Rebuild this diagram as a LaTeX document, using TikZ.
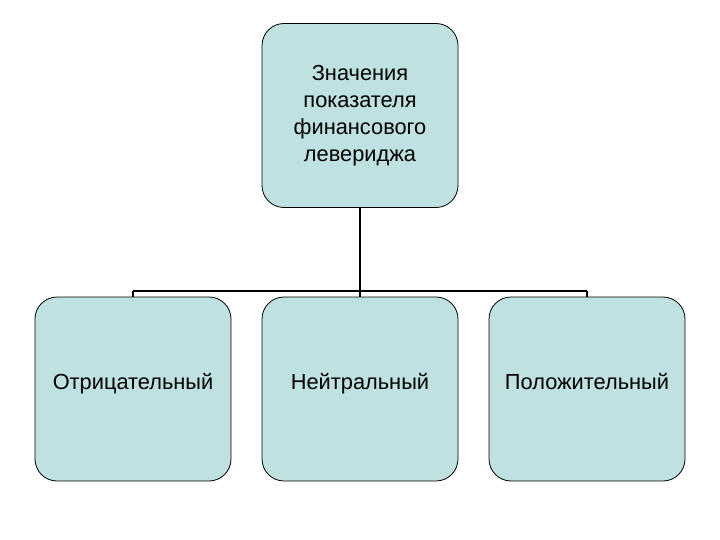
\documentclass[tikz,border=0pt]{standalone}
\usepackage{fontspec}
\setmainfont{Liberation Sans}
\begin{document}
\begin{tikzpicture}[x=1pt,y=-1pt,
 boxs/.style={draw=black,fill=boxfill,rounded corners=22pt,minimum width=196pt,minimum height=184pt,align=center,font=\fontsize{21.8}{27}\selectfont,line width=0.8pt},
 conn/.style={draw=black,line width=1.2pt}]
\definecolor{boxfill}{HTML}{BFE1E1}
\useasboundingbox (0,0) rectangle (720,540);
\node[boxs] (top) at (360,115.5) {Значения\\показателя\\финансового\\левериджа};
\node[boxs] (a) at (133,389) {\raisebox{15pt}{Отрицательный}};
\node[boxs] (b) at (360,389) {\raisebox{15pt}{Нейтральный}};
\node[boxs] (c) at (587,389) {\raisebox{15pt}{Положительный}};
\coordinate (j) at (360,291);
\coordinate (ja) at (133,291);
\coordinate (jc) at (587,291);
\draw[line width=2.5pt] (top.south) -- (360,265);
\draw[conn] (top.south) -- (j);
\draw[conn] (ja) -- (jc);
\draw[conn] (ja) -- (a.north);
\draw[conn] (j) -- (b.north);
\draw[conn] (jc) -- (c.north);
\end{tikzpicture}
\end{document}
